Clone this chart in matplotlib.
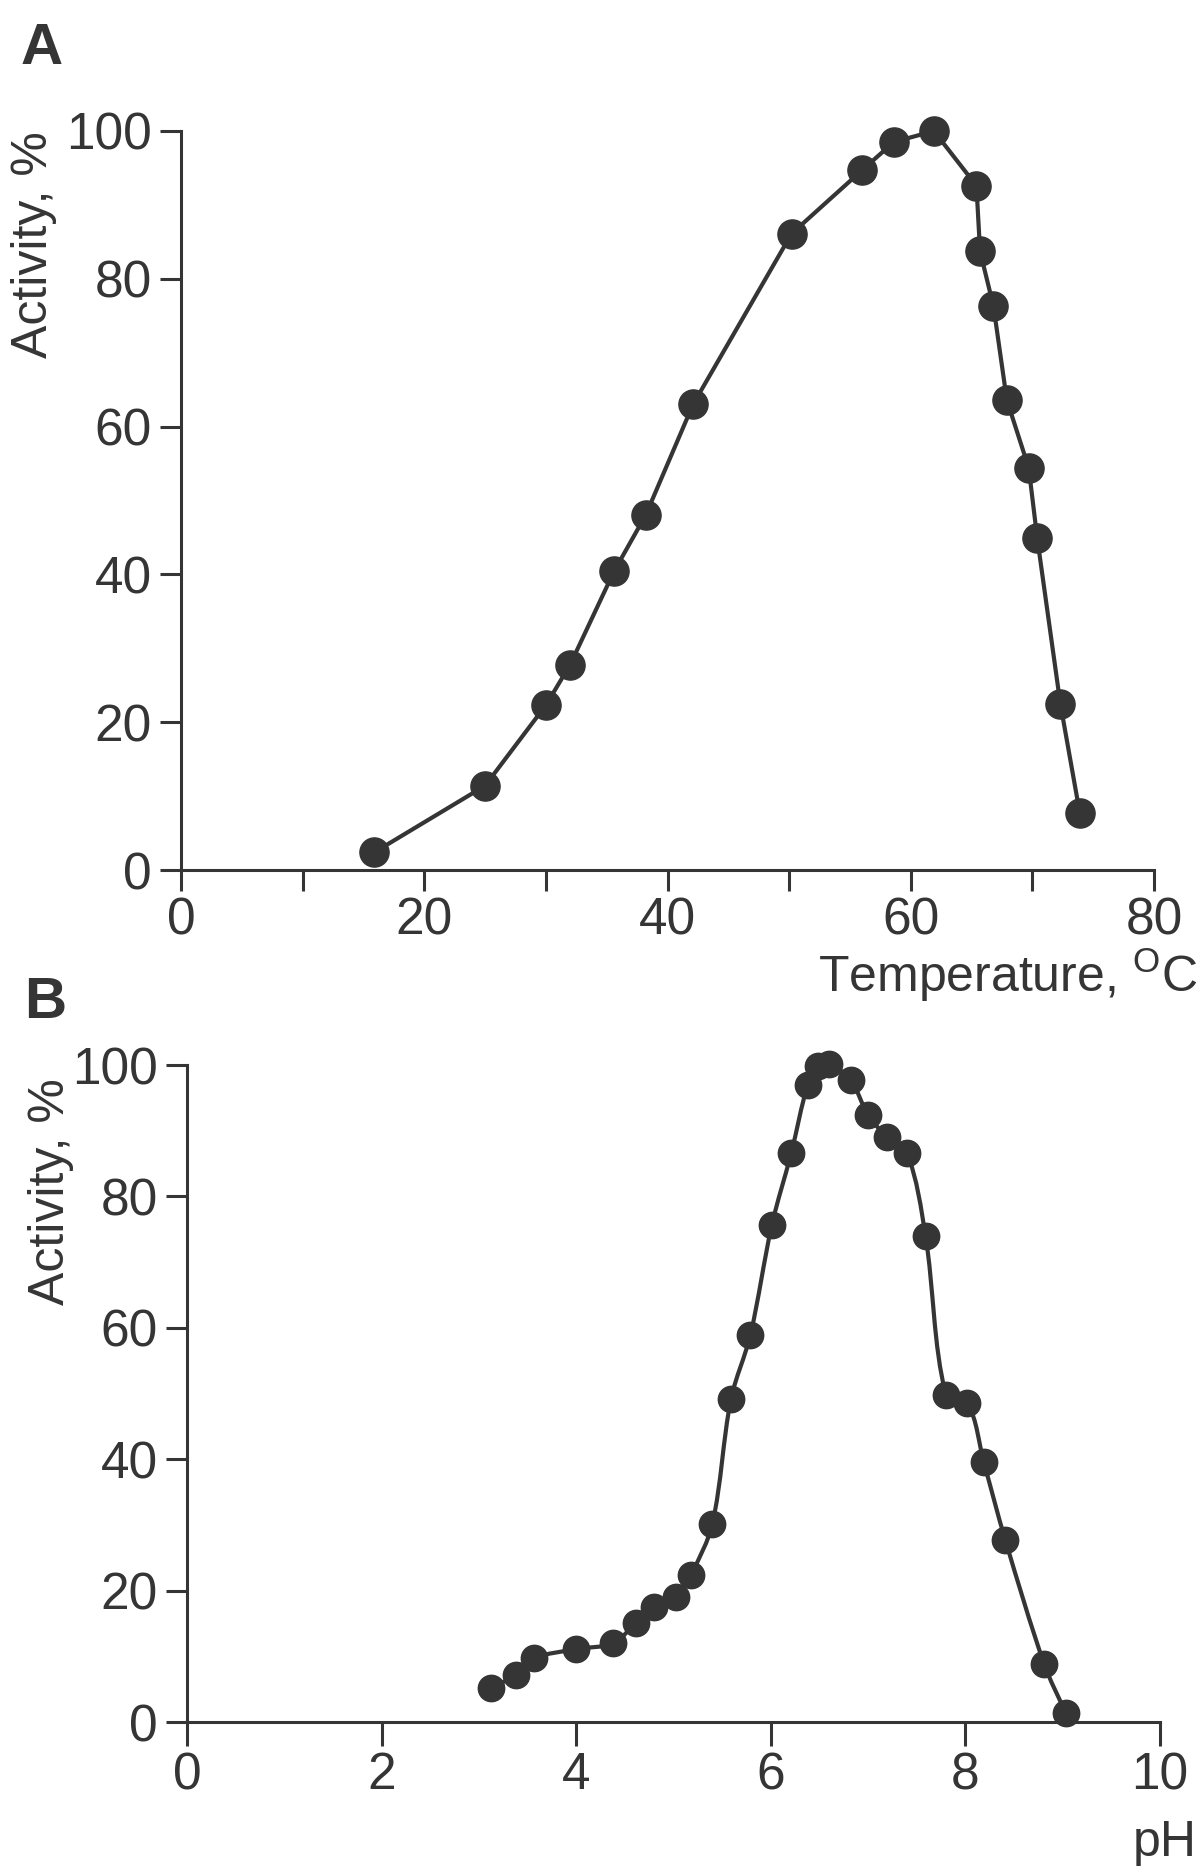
import numpy as np
import matplotlib
matplotlib.use("Agg")
import matplotlib.pyplot as plt
from matplotlib.path import Path
from matplotlib.patches import PathPatch

plt.rcParams["font.family"] = ["Liberation Sans", "DejaVu Sans"]
plt.rcParams["mathtext.fontset"] = "custom"
plt.rcParams["mathtext.rm"] = "Liberation Sans"

# panel A: activity vs temperature
temp_c = [15.9, 25.0, 30.0, 32.0, 35.6, 38.2, 42.1, 50.2, 56.0, 58.6, 61.9,
          65.4, 65.7, 66.8, 67.9, 69.7, 70.4, 72.3, 73.9]
temp_activity = [2.4, 11.4, 22.3, 27.8, 40.4, 48.0, 63.0, 86.1, 94.7, 98.5, 100.0,
                 92.6, 83.7, 76.3, 63.6, 54.4, 44.9, 22.5, 7.7]

# panel B: activity vs pH
ph = [3.12, 3.38, 3.57, 4.0, 4.38, 4.61, 4.80, 5.03, 5.18, 5.40, 5.59, 5.79, 6.01, 6.21,
      6.38, 6.49, 6.60, 6.82, 7.0, 7.19, 7.40, 7.59, 7.80, 8.02, 8.19, 8.41, 8.81, 9.03]
ph_activity = [5.1, 7.2, 9.7, 11.1, 12.0, 15.0, 17.5, 19.0, 22.4, 30.2, 49.1, 58.9, 75.6, 86.6,
               97.0, 99.9, 100.2, 97.7, 92.4, 89.1, 86.6, 74.0, 49.7, 48.6, 39.5, 27.7, 8.8, 1.4]

y_ticks = [0, 20, 40, 60, 80, 100]
temp_ticks = [0, 20, 40, 60, 80]
temp_minor = [10, 30, 50, 70]
ph_ticks = [0, 2, 4, 6, 8, 10]

dark = "#353535"

fig = plt.figure(figsize=(12, 18.67), dpi=100)
W, H = 1200, 1867


def px_axes(left, top, right, bottom):
    return fig.add_axes([left / W, 1 - bottom / H, (right - left) / W, (bottom - top) / H])


def style(ax, xlen):
    for s in ["top", "right"]:
        ax.spines[s].set_visible(False)
    for s in ["left", "bottom"]:
        ax.spines[s].set_color(dark)
        ax.spines[s].set_linewidth(2.2)
    ax.tick_params(which="both", direction="out", width=2.2, color=dark,
                   labelsize=37, labelcolor=dark)
    ax.tick_params(axis="y", length=15, pad=6)
    ax.tick_params(axis="x", which="both", length=xlen, pad=4)
    ax.set_yticks(y_ticks)
    ax.set_ylim(0, 100)


# ---- A ----
axA = px_axes(181, 131, 1154, 870)
style(axA, 15)
axA.plot(temp_c, temp_activity, "-o", color=dark, lw=3, markersize=21, clip_on=False, zorder=3)
axA.set_xlim(0, 80)
axA.set_xticks(temp_ticks)
axA.set_xticks(temp_minor, minor=True)

# ---- B ----
axB = px_axes(187, 1065, 1160, 1722)
style(axB, 17)
axB.set_xlim(0, 10)
axB.set_xticks(ph_ticks)

# smooth line through the measured points (bezier in display space)
P = axB.transData.transform(np.column_stack([ph, ph_activity]))
n = len(P)
dirs = []
for i in range(n):
    a = P[max(i - 1, 0)]
    b = P[min(i + 1, n - 1)]
    d = b - a
    dirs.append(d / np.hypot(*d))
verts = [P[0]]
codes = [Path.MOVETO]
for i in range(n - 1):
    L = np.hypot(*(P[i + 1] - P[i]))
    verts += [P[i] + dirs[i] * L * 0.33, P[i + 1] - dirs[i + 1] * L * 0.33, P[i + 1]]
    codes += [Path.CURVE4] * 3
verts = axB.transData.inverted().transform(np.array(verts))
axB.add_patch(PathPatch(Path(verts, codes), fill=False, lw=3, edgecolor=dark,
                        clip_on=False, zorder=2))
axB.plot(ph, ph_activity, "o", color=dark, markersize=19, clip_on=False, zorder=3)

# labels
fig.text(34 / W, 1 - 131 / H, "Activity, %", rotation=90, ha="center", va="top",
         fontsize=36, color=dark)
fig.text(51 / W, 1 - 1078 / H, "Activity, %", rotation=90, ha="center", va="top",
         fontsize=36, color=dark)
fig.text(1197 / W, 1 - 992 / H, r"Temperature, $^{\mathrm{O}}$C", ha="right",
         va="baseline", fontsize=36, color=dark)
fig.text(1197 / W, 1 - 1856 / H, "pH", ha="right", va="baseline", fontsize=36, color=dark)
fig.text(21 / W, 1 - 22 / H, "A", ha="left", va="top", fontsize=42, fontweight="bold",
         color=dark)
fig.text(24 / W, 1 - 976 / H, "B", ha="left", va="top", fontsize=42, fontweight="bold",
         color=dark)

fig.savefig("out.png", dpi=100)
